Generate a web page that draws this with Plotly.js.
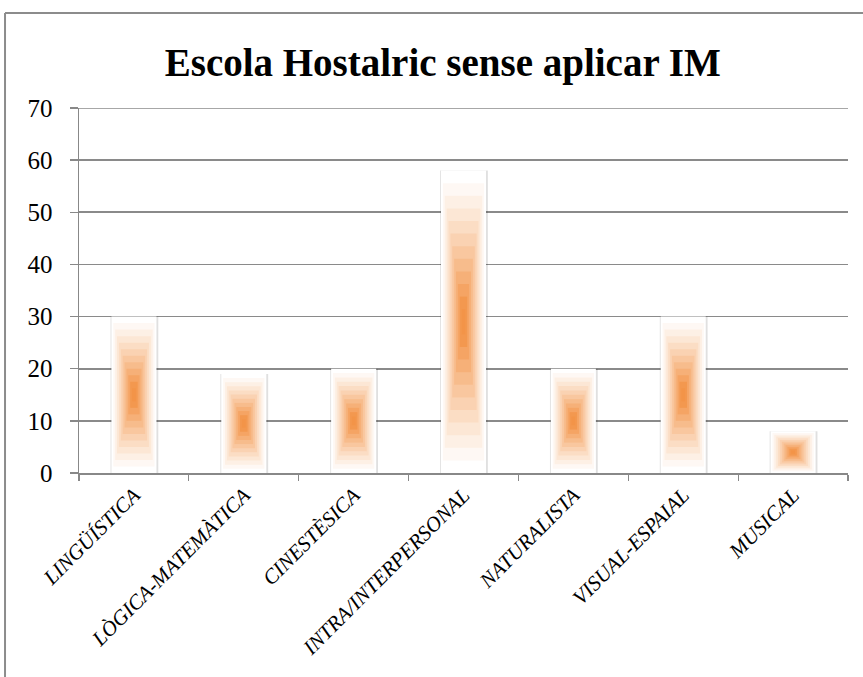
<!DOCTYPE html>
<html>
<head>
<meta charset="utf-8">
<script src="https://cdn.plot.ly/plotly-3.0.1.min.js"></script>
<style>
html,body{margin:0;padding:0;background:#fff;}
#chart{width:863px;height:677px;}
</style>
</head>
<body>
<div id="chart"></div>
<script>
const categories = ["LINGÜÍSTICA", "LÒGICA-MATEMÀTICA", "CINESTÈSICA", "INTRA/INTERPERSONAL", "NATURALISTA", "VISUAL-ESPAIAL", "MUSICAL"];
const values = [30, 19, 20, 58, 20, 30, 8];
const titleText = "Escola Hostalric sense aplicar IM";
const yTicks = [0, 10, 20, 30, 40, 50, 60, 70];
const yMax = 70;

// style: concentric path-gradient layers (white edge -> orange centre)
const BAR_W = 0.41;
const N = 12;
const edge = [255, 255, 255];
const centre = [243, 148, 72];
function mix(f) {
  const c = edge.map((e, i) => Math.round(e + (centre[i] - e) * f));
  return `rgb(${c[0]},${c[1]},${c[2]})`;
}

const traces = [];
// soft shadow behind bars
traces.push({
  type: "bar", x: categories, y: values,
  width: BAR_W + 0.025, offset: -BAR_W / 2 - 0.008,
  marker: { color: "rgba(0,0,0,0.12)", line: { width: 0 } },
  hoverinfo: "skip", showlegend: false
});
for (let k = 0; k < N; k++) {
  const t = 1 - k / N;          // scale of this layer
  const s = 1 - t;              // 0 at edge -> 1 at centre
  const f = Math.min(1, Math.pow(s, 1.2) * 1.2);
  traces.push({
    type: "bar",
    x: categories,
    y: values.map(v => v * t),
    base: values.map(v => v * (1 - t) / 2),
    width: BAR_W * t,
    marker: { color: mix(f), line: { width: 0 } },
    hoverinfo: k === 0 ? "x+y" : "skip",
    showlegend: false
  });
}

const FONT = "Liberation Serif, DejaVu Serif, serif";
const layout = {
  width: 863, height: 677,
  paper_bgcolor: "#fff", plot_bgcolor: "#fff",
  margin: { l: 79, r: 15, t: 108, b: 204 },
  barmode: "overlay",
  showlegend: false,
  title: {
    text: "<b>" + titleText + "</b>",
    font: { family: FONT, size: 39, color: "#000" },
    x: 0.513, xref: "container", xanchor: "center",
    y: 0.908, yref: "container", yanchor: "middle"
  },
  xaxis: {
    type: "category",
    tickangle: -45,
    tickfont: { family: FONT, size: 21, color: "#000", style: "italic" },
    showline: true, linecolor: "#888", linewidth: 1.5,
    ticks: "outside", tickson: "boundaries", ticklen: 6, tickcolor: "#888", tickwidth: 1.2,
    showgrid: false, zeroline: false,
    range: [-0.5, 6.5]
  },
  yaxis: {
    range: [0, yMax],
    tickvals: yTicks,
    tickfont: { family: FONT, size: 25, color: "#000" },
    showline: true, linecolor: "#888", linewidth: 1.5,
    ticks: "outside", ticklen: 8, tickcolor: "#888", tickwidth: 1.5,
    ticklabelstandoff: 12,
    showgrid: true, gridcolor: "#8a8a8a", gridwidth: 1.6,
    zeroline: false
  },
  shapes: [
    { type: "line", xref: "paper", yref: "y", x0: 0, x1: 1, y0: yMax, y1: yMax,
      line: { color: "#8a8a8a", width: 1.6 }, layer: "below" },
    { type: "line", xref: "paper", yref: "paper", x0: -0.0962, x1: 1.05, y0: 1.26, y1: 1.26,
      line: { color: "#8c8c8c", width: 2 } },
    { type: "line", xref: "paper", yref: "paper", x0: -0.0962, x1: -0.0962, y0: 1.26, y1: -0.6,
      line: { color: "#8c8c8c", width: 2 } }
  ]
};

Plotly.newPlot("chart", traces, layout, { displayModeBar: false, staticPlot: true });
</script>
</body>
</html>
